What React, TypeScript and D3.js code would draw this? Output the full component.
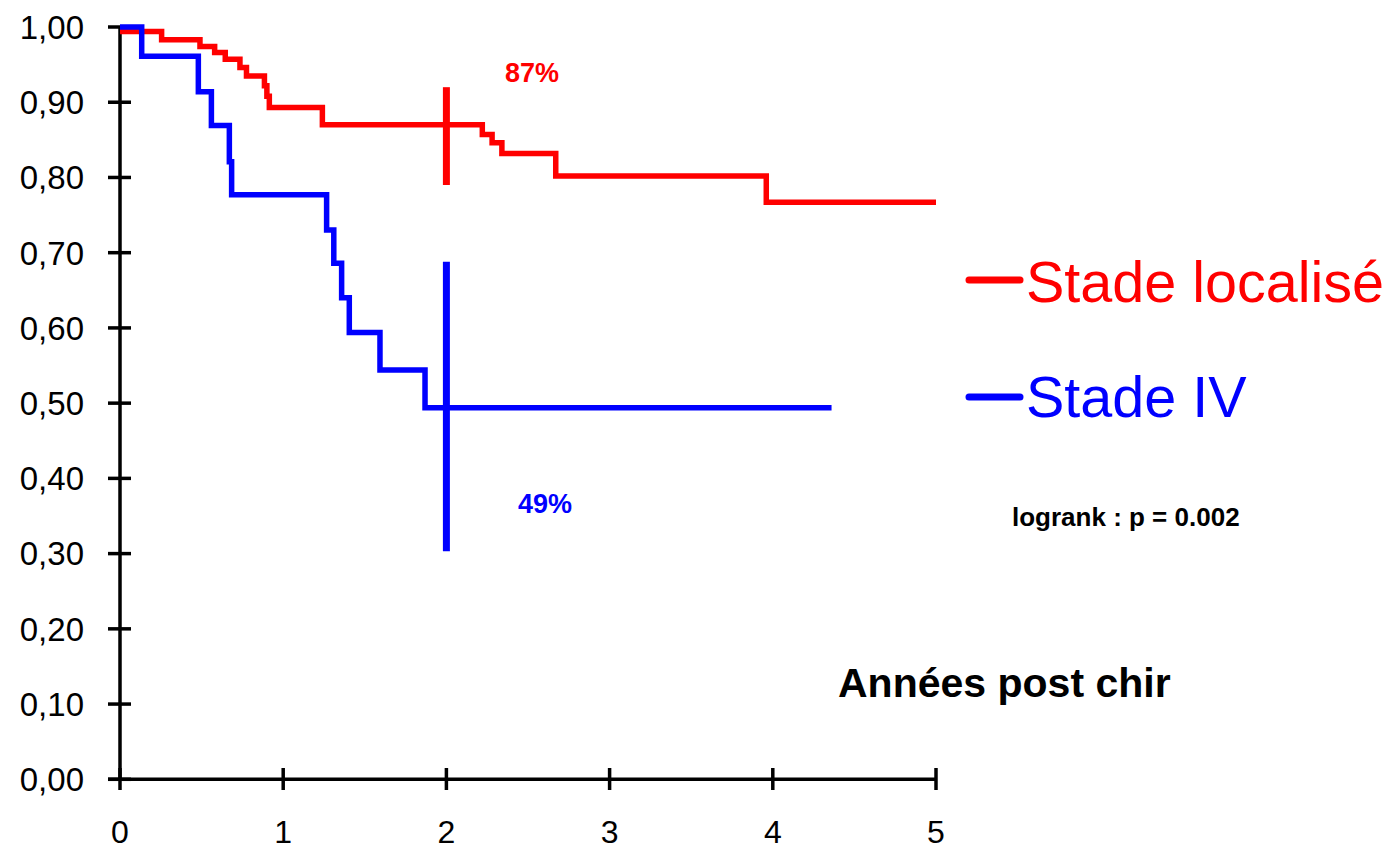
import React from "react";
import * as d3 from "d3";

// Stade localisé (red): step times and survival after each step
const redTimes = [0, 0.255, 0.49, 0.58, 0.645, 0.735, 0.775, 0.885, 0.9, 0.915, 1.24, 2.22, 2.28, 2.34, 2.67, 3.96];
const redValues = [0.994, 0.983, 0.974, 0.966, 0.957, 0.946, 0.935, 0.922, 0.908, 0.893, 0.87, 0.857, 0.846, 0.832, 0.802, 0.767];
const redEnd = 5.0;

// Stade IV (blue)
const blueTimes = [0, 0.133, 0.48, 0.56, 0.67, 0.684, 1.266, 1.31, 1.358, 1.405, 1.593, 1.869];
const blueValues = [1.0, 0.961, 0.914, 0.869, 0.821, 0.777, 0.73, 0.686, 0.64, 0.594, 0.544, 0.494];
const blueEnd = 4.36;

// 2-year confidence intervals
const ciTime = 2;
const redCI = [0.79, 0.92];
const blueCI = [0.303, 0.688];

const yTicks = [0, 0.1, 0.2, 0.3, 0.4, 0.5, 0.6, 0.7, 0.8, 0.9, 1.0];
const xTicks = [0, 1, 2, 3, 4, 5];

const seriesNames = ["Stade localisé", "Stade IV"];
const seriesColors = ["#ff0000", "#0000ff"];

const FONT = "'Liberation Sans', Arial, Helvetica, sans-serif";

export default function App() {
  const x = d3.scaleLinear().domain([0, 5]).range([120, 936]);
  const y = d3.scaleLinear().domain([0, 1]).range([779.3, 27]);

  const line = d3
    .line<[number, number]>()
    .x((d) => x(d[0]))
    .y((d) => y(d[1]))
    .curve(d3.curveStepAfter);

  const build = (t: number[], v: number[], end: number): [number, number][] => {
    const pts: [number, number][] = t.map((ti, i) => [ti, v[i]]);
    pts.push([end, v[v.length - 1]]);
    return pts;
  };

  const redPath = line(build(redTimes, redValues, redEnd)) || "";
  const bluePath = line(build(blueTimes, blueValues, blueEnd)) || "";

  const fmt = (v: number) => v.toFixed(2).replace(".", ",");

  return (
    <svg
      width={1394}
      height={851}
      style={{ position: "absolute", left: 0, top: 0, background: "#fff" }}
      fontFamily={FONT}
    >
      <rect x={0} y={0} width={1394} height={851} fill="#fff" />
      {/* axes */}
      <line x1={x(0)} x2={x(0)} y1={y(1)} y2={y(0)} stroke="#000" strokeWidth={3.5} />
      <line x1={108} x2={x(5)} y1={y(0)} y2={y(0)} stroke="#000" strokeWidth={3.5} />
      {yTicks.map((t) => (
        <g key={"y" + t}>
          <line x1={108} x2={131} y1={y(t)} y2={y(t)} stroke="#000" strokeWidth={3.5} />
          <text
            x={84}
            y={y(t)}
            dy="0.36em"
            textAnchor="end"
            fontSize={33}
            fill="#000"
          >
            {fmt(t)}
          </text>
        </g>
      ))}
      {xTicks.map((t) => (
        <g key={"x" + t}>
          <line x1={x(t)} x2={x(t)} y1={768} y2={790} stroke="#000" strokeWidth={3.5} />
          <text x={x(t)} y={843} textAnchor="middle" fontSize={32} fill="#000">
            {t}
          </text>
        </g>
      ))}

      {/* curves */}
      <path d={redPath} fill="none" stroke={seriesColors[0]} strokeWidth={5.5} />
      <path d={bluePath} fill="none" stroke={seriesColors[1]} strokeWidth={5.5} />

      {/* CI bars */}
      <line x1={x(ciTime)} x2={x(ciTime)} y1={y(redCI[0])} y2={y(redCI[1])} stroke={seriesColors[0]} strokeWidth={7} />
      <line x1={x(ciTime)} x2={x(ciTime)} y1={y(blueCI[0])} y2={y(blueCI[1])} stroke={seriesColors[1]} strokeWidth={7} />

      {/* annotations */}
      <text x={505} y={82} fontSize={27} fontWeight="bold" fill={seriesColors[0]}>87%</text>
      <text x={518} y={513} fontSize={27} fontWeight="bold" fill={seriesColors[1]}>49%</text>
      <text x={1012} y={526} fontSize={26} fontWeight="bold" fill="#000">logrank : p = 0.002</text>
      <text x={838} y={697} fontSize={41} fontWeight="bold" fill="#000">Années post chir</text>

      {/* legend */}
      {seriesNames.map((n, i) => {
        const ly = i === 0 ? 280 : 397;
        const by = i === 0 ? 302 : 417;
        return (
          <g key={n}>
            <line x1={969} x2={1020} y1={ly} y2={ly} stroke={seriesColors[i]} strokeWidth={7} strokeLinecap="round" />
            <text x={1026} y={by} fontSize={57.5} fill={seriesColors[i]}>{n}</text>
          </g>
        );
      })}
    </svg>
  );
}
